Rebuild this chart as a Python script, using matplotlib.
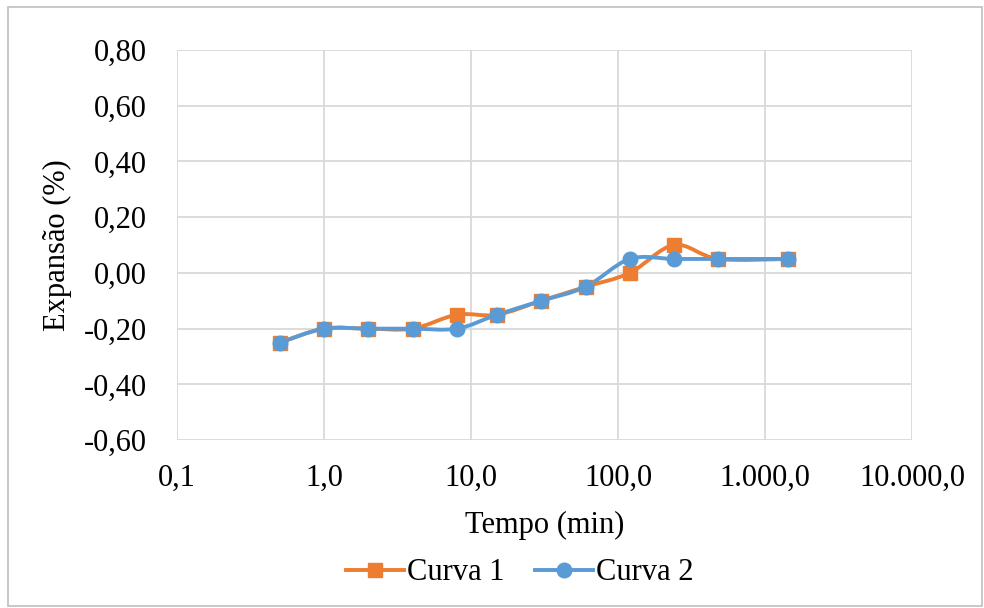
import numpy as np
import matplotlib.pyplot as plt
from matplotlib.path import Path
from matplotlib.patches import PathPatch
from matplotlib.lines import Line2D

# Dados
tempo = [0.5, 1, 2, 4, 8, 15, 30, 60, 120, 240, 480, 1440]
curva1 = [-0.25, -0.20, -0.20, -0.20, -0.15, -0.15, -0.10, -0.05, 0.00, 0.10, 0.05, 0.05]
curva2 = [-0.25, -0.20, -0.20, -0.20, -0.20, -0.15, -0.10, -0.05, 0.05, 0.05, 0.05, 0.05]
xticks = [0.1, 1, 10, 100, 1000, 10000]
xlabels = ['0,1', '1,0', '10,0', '100,0', '1.000,0', '10.000,0']
yticks = [-0.6, -0.4, -0.2, 0.0, 0.2, 0.4, 0.6, 0.8]
ylabels = ['-0,60', '-0,40', '-0,20', '0,00', '0,20', '0,40', '0,60', '0,80']

laranja = '#ED7D31'
azul = '#5B9BD5'

plt.rcParams['font.family'] = ['Liberation Serif', 'DejaVu Serif']


def curva_suave(x, y):
    # linha suavizada (tipo Excel) em espaço log-x
    lx = np.log10(x)
    pts = np.column_stack([lx, y])
    verts = [pts[0]]
    codes = [Path.MOVETO]
    n = len(pts)
    for i in range(n - 1):
        p0 = pts[max(i - 1, 0)]
        p1 = pts[i]
        p2 = pts[i + 1]
        p3 = pts[min(i + 2, n - 1)]
        c1 = p1 + (p2 - p0) / 6
        c2 = p2 - (p3 - p1) / 6
        verts += [c1, c2, p2]
        codes += [Path.CURVE4] * 3
    verts = np.array(verts)
    verts[:, 0] = 10 ** verts[:, 0]
    return Path(verts, codes)


fig = plt.figure(figsize=(9.84, 6.08), dpi=100)
ax = fig.add_axes([0.18, 0.276, 0.747, 0.642])

for y, cor, mk in [(curva1, laranja, 's'), (curva2, azul, 'o')]:
    ax.add_patch(PathPatch(curva_suave(tempo, y), fill=False, edgecolor=cor,
                           lw=2.8, capstyle='round', joinstyle='round', zorder=3))
    ax.plot(tempo, y, ls='none', marker=mk, ms=10.5, color=cor, zorder=4)

ax.set_xscale('log')
ax.set_xlim(0.1, 10000)
ax.set_ylim(-0.6, 0.8)
ax.set_xticks(xticks)
ax.set_xticklabels(xlabels)
ax.xaxis.set_minor_locator(plt.NullLocator())
ax.set_yticks(yticks)
ax.set_yticklabels(ylabels)
ax.tick_params(length=0, labelsize=22)
ax.tick_params(axis='y', pad=22)
ax.tick_params(axis='x', pad=17)
ax.grid(True, color='#D9D9D9', lw=1.3)
for s in ax.spines.values():
    s.set_visible(False)
ax.set_axisbelow(True)

ax.set_xlabel('Tempo (min)', fontsize=22, labelpad=13)
ax.set_ylabel('Expansão (%)', fontsize=22, labelpad=8)

handles = [Line2D([], [], color=laranja, marker='s', ms=10.5, lw=2.8),
           Line2D([], [], color=azul, marker='o', ms=10.5, lw=2.8)]
fig.legend(handles, ['Curva 1', 'Curva 2'], loc='center', bbox_to_anchor=(0.528, 0.058),
           ncol=2, frameon=False, fontsize=22, handlelength=1.9, handletextpad=0.1,
           columnspacing=1.0)

# borda externa
fig.patches.append(plt.Rectangle((0.008, 0.004), 0.99, 0.985, transform=fig.transFigure,
                                 fill=False, edgecolor='#BFBFBF', lw=1.2))

plt.savefig('out.png', dpi=100)
